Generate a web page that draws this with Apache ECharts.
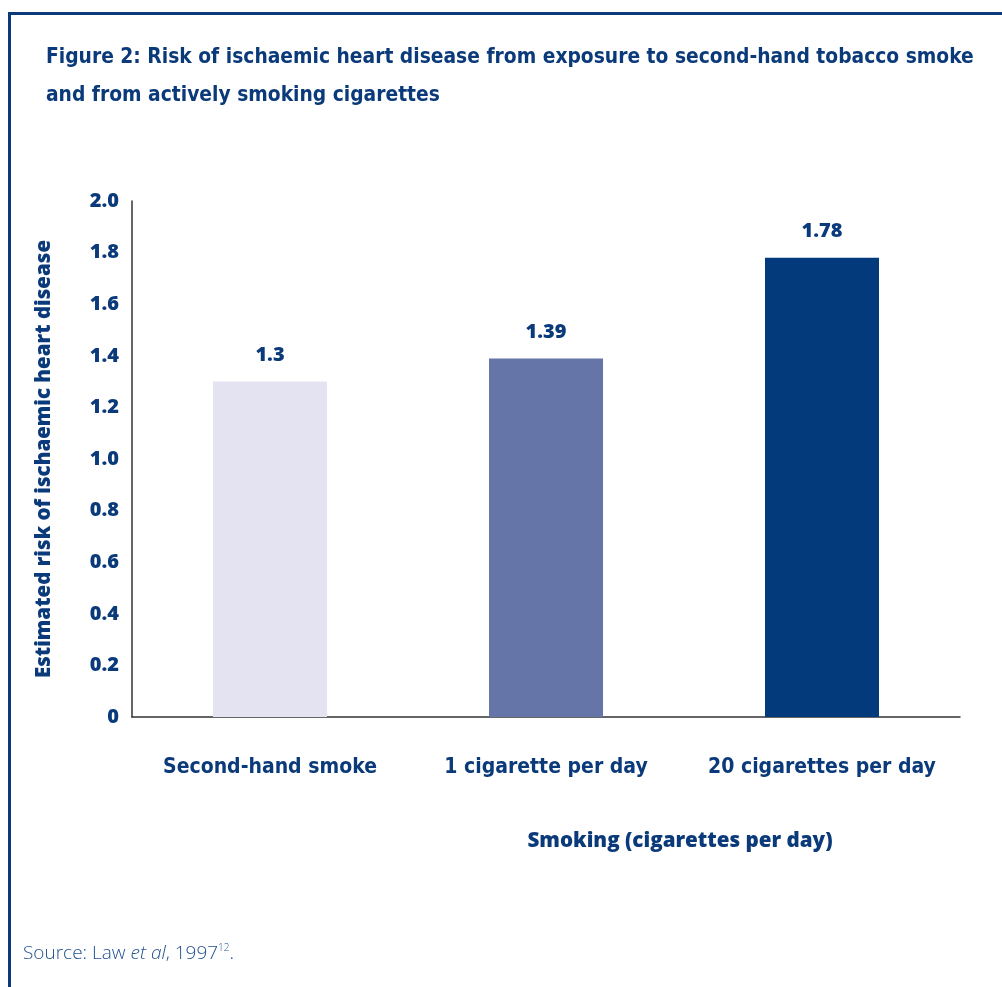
<!DOCTYPE html>
<html>
<head>
<meta charset="utf-8">
<script src="https://cdn.jsdelivr.net/npm/echarts@6/dist/echarts.min.js"></script>
<style>
  html, body { margin: 0; padding: 0; background: #fff; }
  #chart { width: 1002px; height: 987px; }
</style>
</head>
<body>
<div id="chart"></div>
<script>
// Exposure categories and estimated relative risk
const categories = ['Second-hand smoke', '1 cigarette per day', '20 cigarettes per day'];
const riskValues = [1.3, 1.39, 1.78];
const barColors = ['#e4e3f1', '#6675a8', '#023a7c'];
const yTicks = { min: 0, max: 2.0, interval: 0.2 };

const navy = '#0b3a7a';
const condensed = '"DejaVu Sans Condensed", "DejaVu Sans", sans-serif';
const wide = '"Open Sans", "Noto Sans", sans-serif';

const chart = echarts.init(document.getElementById('chart'));

chart.setOption({
  backgroundColor: '#fff',
  animation: false,
  grid: { left: 132, right: 42, top: 201, bottom: 270, containLabel: false },
  xAxis: {
    type: 'category',
    data: categories,
    axisLine: { show: true, lineStyle: { color: '#333', width: 1.5 } },
    axisTick: { show: false },
    axisLabel: {
      interval: 0,
      margin: 40,
      color: navy,
      fontFamily: condensed,
      fontWeight: 'bold',
      fontSize: 21
    }
  },
  yAxis: {
    type: 'value',
    min: yTicks.min,
    max: yTicks.max,
    interval: yTicks.interval,
    name: 'Estimated risk of ischaemic heart disease',
    nameLocation: 'middle',
    nameGap: 77,
    nameRotate: 90,
    nameTextStyle: { color: navy, fontFamily: wide, fontWeight: 800, fontSize: 20.5 },
    axisLine: { show: true, lineStyle: { color: '#333', width: 1.5 } },
    axisTick: { show: false },
    splitLine: { show: false },
    axisLabel: {
      margin: 13,
      color: navy,
      fontFamily: wide,
      fontWeight: 800,
      fontSize: 20,
      formatter: v => (v === 0 ? '0' : v.toFixed(1))
    }
  },
  series: [{
    type: 'bar',
    barWidth: 114,
    data: riskValues.map((v, i) => ({ value: v, itemStyle: { color: barColors[i] } })),
    label: {
      show: true,
      position: 'top',
      distance: 16,
      color: navy,
      fontFamily: wide,
      fontWeight: 800,
      fontSize: 20,
      formatter: p => String(p.value)
    }
  }],
  graphic: [
    // frame: top rule and left rule
    { type: 'rect', shape: { x: 8, y: 12, width: 994, height: 3 }, style: { fill: navy } },
    { type: 'rect', shape: { x: 8, y: 12, width: 3, height: 975 }, style: { fill: navy } },
    {
      type: 'text', left: 46, top: 39,
      style: {
        text: 'Figure 2: Risk of ischaemic heart disease from exposure to second-hand tobacco smoke\nand from actively smoking cigarettes',
        fill: navy, font: 'bold 20.8px ' + condensed, lineHeight: 38
      }
    },
    {
      type: 'text', x: 680, y: 841,
      style: {
        text: 'Smoking (cigarettes per day)',
        fill: navy, font: '800 20.6px ' + wide, textAlign: 'center', textVerticalAlign: 'middle'
      }
    },
    {
      type: 'text', left: 23, top: 943,
      style: {
        text: '{n|Source: Law }{i|et al}{n|, 1997}{s|12}{n|.}',
        rich: {
          n: { fill: '#1f4f8f', font: '300 19px ' + wide },
          i: { fill: '#1f4f8f', font: 'italic 300 19px ' + wide },
          s: { fill: '#1f4f8f', font: '300 10px ' + wide, verticalAlign: 'top', padding: [0, 0, 12, 0] }
        }
      }
    }
  ]
});
</script>
</body>
</html>
